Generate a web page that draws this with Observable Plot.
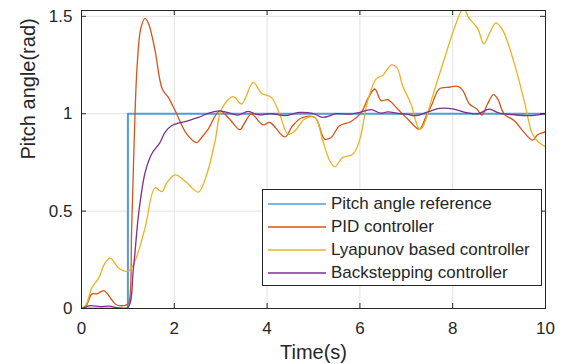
<!DOCTYPE html>
<html>
<head>
<meta charset="utf-8">
<script src="https://cdn.jsdelivr.net/npm/d3@7"></script>
<script src="https://cdn.jsdelivr.net/npm/@observablehq/plot@0.6"></script>
<style>
  body { margin: 0; background: #fff; }
  #wrap { position: relative; width: 571px; height: 364px; font-family: "Liberation Sans", Arial, sans-serif; color: #262626; }
  #legend { position: absolute; left: 262px; top: 189px; width: 280px; height: 97px; box-sizing: border-box;
            border: 1px solid #262626; background: #fff; padding-top: 3px; }
  #legend .row { display: flex; align-items: center; height: 22.8px; font-size: 17px; }
  #legend svg { margin-left: 5px; margin-right: 5px; }
</style>
</head>
<body>
<div id="wrap"></div>
<script>
// Pitch angle step response (rad) of three controllers against the reference
const xTicks = [0, 2, 4, 6, 8, 10];
const yTicks = [0, 0.5, 1, 1.5];
const seriesNames = ["Pitch angle reference", "PID controller", "Lyapunov based controller", "Backstepping controller"];
const seriesColors = ["#4d9dd6", "#D95319", "#EDB120", "#7E2F8E"];

const refT = [0, 1, 1, 10];
const refV = [0, 0, 1, 1];

const pidT = [0, 0.08, 0.22, 0.33, 0.49, 0.65, 0.75, 0.86, 0.97, 1.02, 1.08, 1.14, 1.2, 1.28, 1.37, 1.45, 1.585, 1.74, 1.87, 2.02, 2.27, 2.48, 2.59, 2.73, 2.98, 3.2, 3.41, 3.52, 3.66, 3.91, 4.06, 4.38, 4.55, 4.74, 5.03, 5.24, 5.38, 5.56, 5.81, 6.03, 6.17, 6.32, 6.46, 6.6, 6.85, 7.03, 7.28, 7.43, 7.54, 7.71, 7.93, 8.11, 8.22, 8.36, 8.52, 8.63, 8.75, 8.88, 8.97, 9.11, 9.33, 9.51, 9.72, 9.83, 10];
const pidV = [0, 0.002, 0.074, 0.075, 0.091, 0.045, 0.019, 0.014, 0.019, 0.03, 0.4, 0.9, 1.25, 1.44, 1.49, 1.46, 1.325, 1.127, 1.084, 1.015, 0.895, 0.852, 0.878, 0.921, 1.015, 0.97, 0.918, 0.955, 0.998, 0.943, 0.955, 0.881, 0.938, 0.978, 0.981, 0.87, 0.878, 0.938, 0.96, 1.007, 1.076, 1.127, 1.067, 1.072, 1.015, 0.973, 0.921, 0.99, 1.041, 1.127, 1.136, 1.141, 1.119, 1.05, 1.024, 0.993, 1.05, 1.098, 1.076, 0.998, 0.964, 0.912, 0.864, 0.892, 0.907];

const lyaT = [0, 0.1, 0.22, 0.37, 0.5, 0.62, 0.8, 1.01, 1.15, 1.37, 1.585, 1.73, 1.84, 2.02, 2.23, 2.52, 2.7, 2.88, 3.02, 3.27, 3.45, 3.7, 3.88, 4.09, 4.27, 4.45, 4.6, 4.81, 5.03, 5.2, 5.35, 5.46, 5.63, 5.85, 5.99, 6.17, 6.35, 6.49, 6.68, 6.8, 6.92, 7.1, 7.28, 7.35, 7.57, 7.82, 8.07, 8.23, 8.36, 8.54, 8.67, 8.79, 8.93, 9.08, 9.33, 9.54, 9.72, 9.86, 10];
const lyaV = [0, 0.02, 0.105, 0.156, 0.23, 0.259, 0.208, 0.191, 0.242, 0.414, 0.62, 0.6, 0.646, 0.686, 0.655, 0.598, 0.689, 0.861, 1.024, 1.088, 1.05, 1.161, 1.105, 1.084, 0.998, 0.895, 0.912, 0.973, 0.981, 0.861, 0.758, 0.728, 0.775, 0.792, 0.861, 1.067, 1.179, 1.196, 1.251, 1.235, 1.144, 1.05, 0.921, 0.93, 1.093, 1.282, 1.462, 1.54, 1.488, 1.437, 1.359, 1.411, 1.466, 1.428, 1.256, 1.067, 0.895, 0.852, 0.83];

const bsT = [0, 0.2, 0.4, 0.6, 0.8, 1.0, 1.12, 1.23, 1.37, 1.51, 1.69, 1.8, 1.94, 2.23, 2.52, 2.73, 2.98, 3.21, 3.38, 3.59, 3.8, 4.1, 4.38, 4.7, 5.0, 5.2, 5.5, 5.8, 6.0, 6.24, 6.45, 6.6, 6.85, 7.0, 7.21, 7.45, 7.71, 8.0, 8.3, 8.55, 8.79, 9.0, 9.3, 9.65, 10];
const bsV = [0, 0.015, 0.01, 0.012, 0.003, 0.005, 0.208, 0.483, 0.697, 0.792, 0.852, 0.904, 0.938, 0.96, 0.981, 1.002, 1.015, 1.002, 0.993, 1.012, 0.995, 1.0, 0.99, 1.007, 1.0, 0.981, 1.0, 0.998, 1.007, 1.021, 1.003, 1.01, 1.0, 0.998, 0.99, 1.008, 1.027, 1.025, 1.005, 1.0, 1.024, 1.003, 0.995, 0.99, 1.0];

const toRows = (T, V) => T.map((t, i) => ({t, v: V[i]}));

const W = 571, H = 364;
const mL = 81, mR = 26, mT = 10, mB = 56;
const innerW = W - mL - mR, innerH = H - mT - mB;
const ink = "#262626", gridColor = "#e2e2e2", tickLen = 5;

const plot = Plot.plot({
  width: W, height: H,
  marginLeft: mL, marginRight: mR, marginTop: mT, marginBottom: mB,
  style: {fontFamily: '"Liberation Sans", Arial, sans-serif', background: "#fff", color: ink},
  x: {domain: [0, 10]},
  y: {domain: [0, 1.53]},
  marks: [
    Plot.gridX(xTicks.slice(1, -1), {stroke: gridColor, strokeOpacity: 1}),
    Plot.gridY(yTicks.slice(1), {stroke: gridColor, strokeOpacity: 1}),
    Plot.line(toRows(refT, refV), {x: "t", y: "v", stroke: seriesColors[0], strokeWidth: 2, clip: true}),
    Plot.line(toRows(pidT, pidV), {x: "t", y: "v", stroke: seriesColors[1], strokeWidth: 1.3, curve: "catmull-rom", clip: true}),
    Plot.line(toRows(lyaT, lyaV), {x: "t", y: "v", stroke: seriesColors[2], strokeWidth: 1.3, curve: "catmull-rom", clip: true}),
    Plot.line(toRows(bsT, bsV), {x: "t", y: "v", stroke: seriesColors[3], strokeWidth: 1.3, curve: "catmull-rom", clip: true}),
    Plot.frame({stroke: ink, strokeWidth: 1}),
    // inward ticks on all four sides
    Plot.tickX(xTicks, {x: d => d, stroke: ink, insetTop: innerH - tickLen}),
    Plot.tickX(xTicks, {x: d => d, stroke: ink, insetBottom: innerH - tickLen}),
    Plot.tickY(yTicks, {y: d => d, stroke: ink, insetRight: innerW - tickLen}),
    Plot.tickY(yTicks, {y: d => d, stroke: ink, insetLeft: innerW - tickLen}),
    Plot.axisX(xTicks, {tickSize: 0, tickPadding: 13, label: null, fontSize: 17, tickFormat: d => String(d), fill: ink}),
    Plot.axisY(yTicks, {tickSize: 0, tickPadding: 9, label: null, fontSize: 17, tickFormat: d => String(d), fill: ink}),
    Plot.text(["Time(s)"], {frameAnchor: "bottom", dy: 44, lineAnchor: "middle", fontSize: 20, fill: ink}),
    Plot.text(["Pitch angle(rad)"], {frameAnchor: "left", rotate: -90, dx: -53, lineAnchor: "middle", fontSize: 20, fill: ink})
  ]
});

const wrap = document.getElementById("wrap");
wrap.appendChild(plot);

// legend box inside the axes
const legend = document.createElement("div");
legend.id = "legend";
seriesNames.forEach((name, i) => {
  const row = document.createElement("div");
  row.className = "row";
  row.innerHTML = `<svg width="58" height="4"><line x1="0" x2="58" y1="2" y2="2" stroke="${seriesColors[i]}" stroke-opacity="0.75" stroke-width="2"/></svg><span>${name}</span>`;
  legend.appendChild(row);
});
wrap.appendChild(legend);
</script>
</body>
</html>
